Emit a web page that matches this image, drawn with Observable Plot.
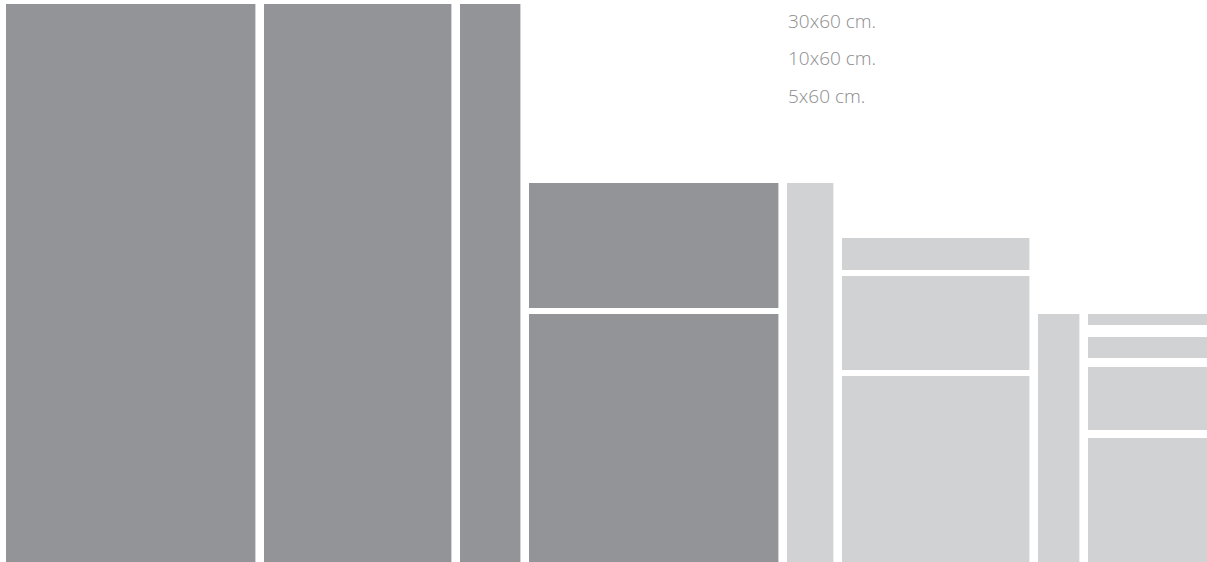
<!DOCTYPE html>
<html>
<head>
<meta charset="utf-8">
<script src="https://cdn.jsdelivr.net/npm/d3@7"></script>
<script src="https://cdn.jsdelivr.net/npm/@observablehq/plot@0.6"></script>
<style>
  html, body { margin: 0; padding: 0; background: #fff; }
  #wrap { position: relative; width: 1207px; height: 562px; overflow: hidden; }
  #legend { position: absolute; left: 788px; top: 3px; font-family: "Open Sans", sans-serif;
            font-size: 19px; line-height: 37.3px; color: #8c8c8e; font-weight: 300; }
</style>
</head>
<body>
<div id="wrap"><div id="legend"></div></div>
<script>
// Tile sizes shown in the key
const legendLabels = ["30x60 cm.", "10x60 cm.", "5x60 cm."];

// Column widths (units) and tone of each column
const columnWidths = [249.4, 187.4, 60.4, 249.4, 46.4, 187.4, 41.4, 125];
const columnTone   = ["dark", "dark", "dark", "dark", "light", "light", "light", "light"];
const columnGap = 8.6;
const leftOffset = 6;

// Stacked pieces per column: [bottom, top] in height units
const columnPieces = [
  [[0, 558]],
  [[0, 558]],
  [[0, 558]],
  [[0, 248], [254, 379]],
  [[0, 379]],
  [[0, 186], [192, 286], [292, 324]],
  [[0, 248]],
  [[0, 124], [132, 195], [204, 225], [237, 248]]
];

// Build table
const pieces = [];
let cursor = leftOffset;
columnWidths.forEach((w, i) => {
  columnPieces[i].forEach(([b, t]) => {
    pieces.push({col: i, x1: cursor, x2: cursor + w, y1: b, y2: t, tone: columnTone[i]});
  });
  cursor += w + columnGap;
});

const chart = Plot.plot({
  width: 1207,
  height: 562,
  margin: 0,
  marginTop: 4,
  x: {domain: [0, 1207], axis: null},
  y: {domain: [0, 558], axis: null},
  color: {domain: ["dark", "light"], range: ["#939498", "#d1d2d4"]},
  marks: [
    Plot.rect(pieces, {x1: "x1", x2: "x2", y1: "y1", y2: "y2", fill: "tone"})
  ]
});
document.getElementById("wrap").prepend(chart);

const leg = document.getElementById("legend");
legendLabels.forEach(t => {
  const d = document.createElement("div");
  d.textContent = t;
  leg.appendChild(d);
});
</script>
</body>
</html>
